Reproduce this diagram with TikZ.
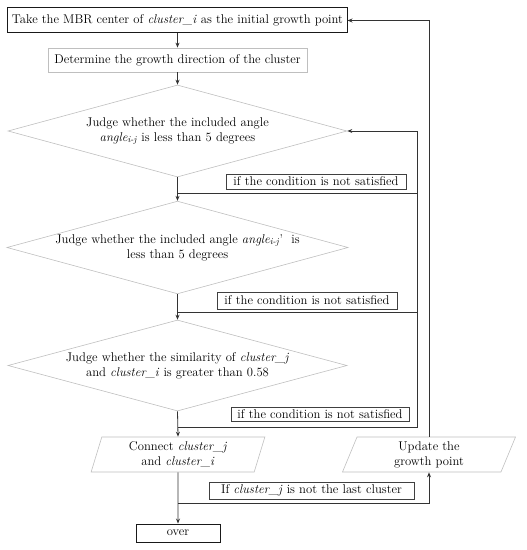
\documentclass[tikz,border=0pt]{standalone}
\usetikzlibrary{shapes.geometric,arrows.meta}
\begin{document}
\begin{tikzpicture}[x=1bp,y=-1bp,
 every node/.style={font=\fontsize{12.7}{15}\selectfont, align=center, inner sep=0pt},
 blackbox/.style={draw=black!90, line width=1bp},
 graybox/.style={draw=black!25, line width=0.8bp},
 decision/.style={diamond, draw=black!25, line width=0.6bp, minimum width=339bp, minimum height=92bp, aspect=3.68},
 io/.style={trapezium, trapezium left angle=75, trapezium right angle=105, trapezium stretches=true, draw=black!25, line width=0.6bp, minimum width=174bp, minimum height=35bp},
 cond/.style={draw=black!75, line width=0.8bp},
 line/.style={draw=black!80, line width=0.8bp},
 arr/.style={line, -{Stealth[length=5bp,width=4bp]}}
]
\useasboundingbox (0,0) rectangle (527,550);

\node[blackbox, minimum width=339bp, minimum height=25bp] (start) at (177.5,20.5) {Take the MBR center of \textit{cluster\_i} as the initial growth point};
\node[graybox, minimum width=259bp, minimum height=24bp] (dir) at (177.5,60) {Determine the growth direction of the cluster};
\node[decision] (d1) at (177.5,131) {Judge whether the included angle\\\textit{angle}\textsubscript{\textit{i-j}} is less than 5 degrees};
\node[cond, minimum width=180bp, minimum height=15bp] (c1) at (316,181.5) {if the condition is not satisfied};
\node[decision, minimum height=91bp] (d2) at (177.5,247.5) {Judge whether the included angle \textit{angle}\textsubscript{\textit{i-j}}’\ \ is\\less than 5 degrees};
\node[cond, minimum width=180bp, minimum height=17bp] (c2) at (307,300.5) {if the condition is not satisfied};
\node[decision, minimum height=91bp] (d3) at (177.5,365.5) {Judge whether the similarity of \textit{cluster\_j}\\and \textit{cluster\_i} is greater than 0.58};
\node[cond, minimum width=178bp, minimum height=14bp] (c3) at (320,414) {if the condition is not satisfied};
\node[io] (conn) at (178,454.5) {Connect \textit{cluster\_j}\\and \textit{cluster\_i}};
\node[io] (upd) at (429,454.5) {Update the\\growth point};
\node[cond, minimum width=205bp, minimum height=17bp] (c4) at (311.5,490.5) {If \textit{cluster\_j} is not the last cluster};
\node[blackbox, line width=0.9bp, minimum width=84bp, minimum height=18bp] (over) at (178,533) {over};

\coordinate (j1) at (178,193);
\coordinate (j2) at (178,312);
\coordinate (j3) at (178,427);
\coordinate (j4) at (178,503);
\coordinate (rb) at (417,427);

\draw[arr] (start.south) -- (dir.north);
\draw[arr] (dir.south) -- (d1.north);
\draw[arr] (d1.south) -- (d2.north);
\draw[arr] (d2.south) -- (d3.north);
\draw[arr] (d3.south) -- (conn.north);
\draw[arr] (conn.south) -- (over.north);
\draw[arr] (j3) -- (rb) |- (d1.east);
\draw[line] (j1) -- (j1 -| rb);
\draw[line] (j2) -- (j2 -| rb);
\draw[arr] (j4) -| (upd.south);
\draw[arr] (upd.north) |- (start.east);
\end{tikzpicture}
\end{document}
